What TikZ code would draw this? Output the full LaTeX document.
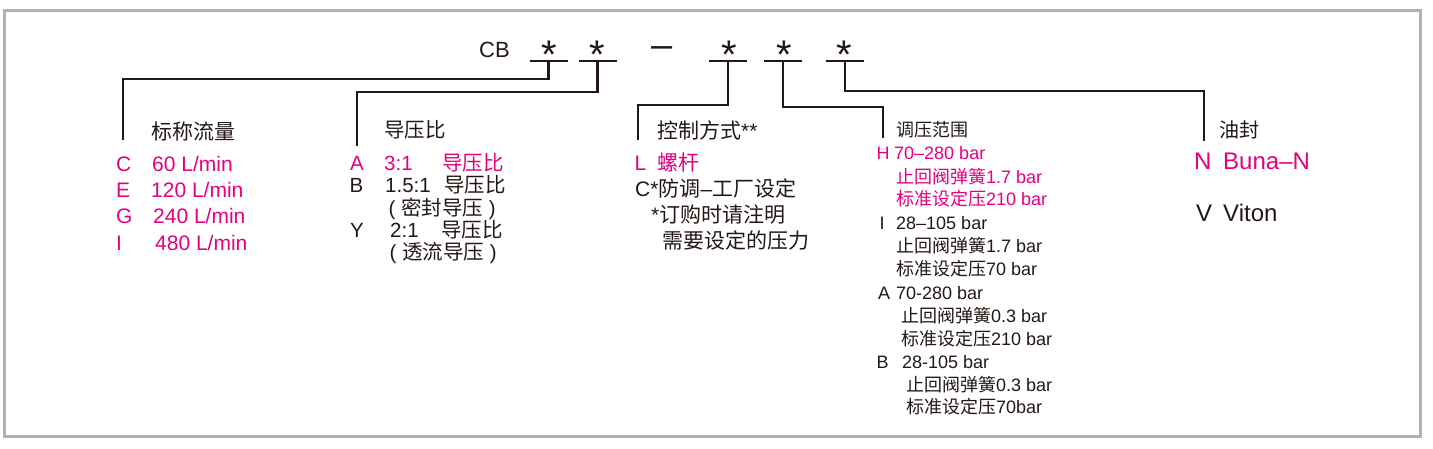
\documentclass[tikz,border=0pt]{standalone}
\usepackage{fontspec}
\setmainfont{Liberation Sans}
\newfontfamily\cjk{Noto Sans CJK SC}
\definecolor{boxgray}{RGB}{178,178,178}
\definecolor{ink}{RGB}{35,24,21}
\definecolor{rose}{RGB}{228,0,127}
\tikzset{
  txt/.style={anchor=base west, inner sep=0pt, text=ink, font=\fontsize{21}{25}\selectfont},
  mid/.style={font=\fontsize{20.5}{24}\selectfont},
  sm/.style={font=\fontsize{18}{22}\selectfont},
  lg/.style={font=\fontsize{24}{28}\selectfont},
  hl/.style={text=rose},
  starmark/.style={anchor=base, inner sep=0pt, text=ink, font=\fontsize{40}{44}\selectfont},
  slot/.style={fill=ink, minimum width=38pt, minimum height=2.3pt, inner sep=0pt},
  leader/.style={draw=ink, line width=2.3pt}
}
\newcommand{\codeline}{
\node[txt, font=\fontsize{22}{26}\selectfont] (cb) at (479,57) {CB};
\node[starmark] (s1) at (549,68.5) {*};
\node[starmark] (s2) at (597,68.5) {*};
\node[starmark, font=\fontsize{38}{40}\selectfont] (dash) at (662,57) {–};
\node[starmark] (s3) at (729,68.5) {*};
\node[starmark] (s4) at (784,68.5) {*};
\node[starmark] (s5) at (844,68.5) {*};
\node[slot] (m1) at (548.5,61) {};
\node[slot] (m2) at (597.5,61) {};
\node[slot] (m3) at (728,61) {};
\node[slot] (m4) at (783,61) {};
\node[slot] (m5) at (845,61) {};
}
\newcommand{\codemarks}{
\coordinate (k1) at (123,79);
\coordinate (e1) at (123,140);
\coordinate (k2) at (357,92);
\coordinate (e2) at (357,146);
\coordinate (k3) at (638,105);
\coordinate (e3) at (638,140);
\coordinate (k4) at (883,107);
\coordinate (e4) at (883,138);
\coordinate (k5) at (1204,91);
\coordinate (e5) at (1204,141);
}
\newcommand{\flowtexts}{
\node[txt] (hflow) at (151,139) {\cjk 标称流量};
\node[txt, hl] (fc) at (116,171) {C};
\node[txt, hl] (fcv) at (152,171) {60 L/min};
\node[txt, hl] (fe) at (116,197) {E};
\node[txt, hl] (fev) at (151,197) {120 L/min};
\node[txt, hl] (fg) at (116,223.5) {G};
\node[txt, hl] (fgv) at (153,223.5) {240 L/min};
\node[txt, hl] (fi) at (116,250.5) {I};
\node[txt, hl] (fiv) at (155,250.5) {480 L/min};
}
\newcommand{\ratiotexts}{
\node[txt, mid] (hratio) at (384,137.5) {\cjk 导压比};
\node[txt, mid, hl] (ra) at (350,170.4) {A};
\node[txt, mid, hl] (rav) at (384,170.4) {3:1};
\node[txt, mid, hl] (raw) at (442,170.4) {\cjk 导压比};
\node[txt, mid] (rb) at (349.5,192.4) {B};
\node[txt, mid] (rbv) at (385,192.4) {1.5:1};
\node[txt, mid] (rbw) at (444,192.4) {\cjk 导压比};
\node[txt, mid] (rbn) at (388.5,215.4) {( {\cjk 密封导压} )};
\node[txt, mid] (ry) at (350,237.4) {Y};
\node[txt, mid] (ryv) at (390,237.4) {2:1};
\node[txt, mid] (ryw) at (441,237.4) {\cjk 导压比};
\node[txt, mid] (ryn) at (389.5,259.4) {( {\cjk 透流导压} )};
}
\newcommand{\controltexts}{
\node[txt] (hctrl) at (657,138.5) {{\cjk 控制方式}**};
\node[txt, hl] (cl) at (634.5,170) {L};
\node[txt, hl] (clv) at (657,170) {\cjk 螺杆};
\node[txt] (cc) at (635,196.5) {C*{\cjk 防调}–{\cjk 工厂设定}};
\node[txt] (cn1) at (651,222.5) {*{\cjk 订购时请注明}};
\node[txt] (cn2) at (662,248.5) {\cjk 需要设定的压力};
}
\newcommand{\rangetexts}{
\node[txt, sm] (hrange) at (896,136.7) {\cjk 调压范围};
\node[txt, sm, hl] (ph) at (876.5,159.5) {H};
\node[txt, sm, hl] (phv) at (894,159.5) {70–280 bar};
\node[txt, sm, hl] (ph1) at (896,183.5) {{\cjk 止回阀弹簧}1.7 bar};
\node[txt, sm, hl] (ph2) at (896,205.5) {{\cjk 标准设定压}210 bar};
\node[txt, sm] (pi) at (879.5,229.5) {I};
\node[txt, sm] (piv) at (896,229.5) {28–105 bar};
\node[txt, sm] (pi1) at (896,252.5) {{\cjk 止回阀弹簧}1.7 bar};
\node[txt, sm] (pi2) at (896,275.5) {{\cjk 标准设定压}70 bar};
\node[txt, sm] (pa) at (878,299.5) {A};
\node[txt, sm] (pav) at (896,299.5) {70-280 bar};
\node[txt, sm] (pa1) at (901,322.5) {{\cjk 止回阀弹簧}0.3 bar};
\node[txt, sm] (pa2) at (901,345.5) {{\cjk 标准设定压}210 bar};
\node[txt, sm] (pb) at (876.5,368.5) {B};
\node[txt, sm] (pbv) at (902,368.5) {28-105 bar};
\node[txt, sm] (pb1) at (906,391.5) {{\cjk 止回阀弹簧}0.3 bar};
\node[txt, sm] (pb2) at (906,413.5) {{\cjk 标准设定压}70bar};
}
\newcommand{\sealtexts}{
\node[txt, font=\fontsize{20}{24}\selectfont] (hseal) at (1219,137.9) {\cjk 油封};
\node[txt, lg, hl] (sn) at (1194,169.5) {N};
\node[txt, lg, hl] (snv) at (1223,169.5) {Buna–N};
\node[txt, lg] (sv) at (1196,221.5) {V};
\node[txt, lg] (svv) at (1223,221.5) {Viton};
}

\begin{document}
\begin{tikzpicture}[x=1pt, y=-1pt]
\useasboundingbox (0,0) rectangle (1433,448);
% frame
\draw[boxgray, line width=3pt] (4,10) rectangle (1420,436);

% model code
\codeline
\codemarks

% leaders
\draw[leader] (m1.center) |- (k1) -- (e1);
\draw[leader] (m2.center) |- (k2) -- (e2);
\draw[leader] (m3.center) |- (k3) -- (e3);
\draw[leader] (m4.center) |- (k4) -- (e4);
\draw[leader] (m5.center) |- (k5) -- (e5);

% option columns
\flowtexts
\ratiotexts
\controltexts
\rangetexts
\sealtexts
\end{tikzpicture}
\end{document}
